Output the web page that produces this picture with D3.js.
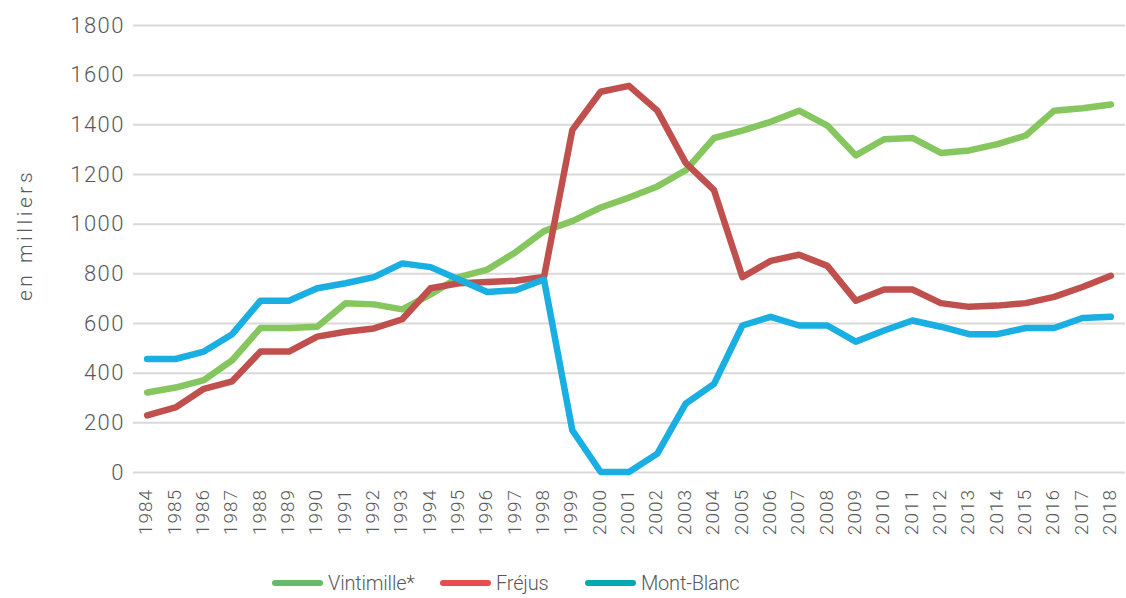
<!DOCTYPE html>
<html>
<head>
<meta charset="utf-8">
<script src="https://cdn.jsdelivr.net/npm/d3@7"></script>
<style>
  body { margin: 0; background: #fff; }
  svg text { font-family: "Roboto", "DejaVu Sans", sans-serif; font-weight: 300; fill: #595959; }
</style>
</head>
<body>
<svg id="chart" width="1126" height="598"></svg>
<script>
const years = d3.range(1984, 2019).map(String);
const yTicks = [0, 200, 400, 600, 800, 1000, 1200, 1400, 1600, 1800];
const seriesNames = ['Vintimille*', 'Fréjus', 'Mont-Blanc'];

const vintimille = [320, 340, 370, 450, 580, 580, 585, 680, 675, 655, 715, 785, 815, 885, 970,
  1010, 1065, 1105, 1150, 1215, 1345, 1375, 1410, 1455, 1395, 1275, 1340, 1345, 1285, 1295,
  1320, 1355, 1455, 1465, 1480];
const frejus = [228, 260, 335, 365, 485, 485, 545, 565, 578, 615, 740, 760, 765, 770, 785,
  1377, 1531, 1555, 1455, 1245, 1135, 785, 850, 875, 830, 690, 735, 735, 680, 665,
  670, 680, 705, 745, 790];
const montBlanc = [455, 455, 485, 555, 690, 690, 740, 760, 785, 840, 825, 775, 725, 732, 775,
  168, 0, 0, 74, 275, 355, 590, 625, 590, 590, 525, 570, 610, 585, 555,
  555, 580, 580, 620, 625];

const lineColors = ['#86c65e', '#c0504d', '#1aafe2'];
const legendColors = ['#66bb6a', '#e84c4c', '#00a9b0'];

const svg = d3.select('svg#chart');
const margin = {left: 133, right: 1, top: 25, bottom: 126};
const width = 1126 - margin.left - margin.right;
const height = 598 - margin.top - margin.bottom;

const x = d3.scalePoint().domain(years).range([0, width]).padding(0.5);
const y = d3.scaleLinear().domain([0, 1800]).range([height, 0]);

const g = svg.append('g').attr('transform', `translate(${margin.left},${margin.top})`);

// gridlines + y labels
const yAxis = g.append('g')
  .call(d3.axisLeft(y).tickValues(yTicks).tickFormat(d3.format('d')).tickSize(-width).tickPadding(8));
yAxis.select('.domain').remove();
yAxis.selectAll('line').attr('stroke', '#d9d9d9').attr('stroke-width', 2);
yAxis.selectAll('text')
  .style('font-size', '22px')
  .style('letter-spacing', '1.5px')
  .attr('fill', '#595959');

// x labels
const xAxis = g.append('g')
  .attr('transform', `translate(0,${height})`)
  .call(d3.axisBottom(x).tickSize(0).tickPadding(0));
xAxis.select('.domain').remove();
xAxis.selectAll('text')
  .style('font-size', '19px')
  .style('letter-spacing', '1px')
  .attr('fill', '#595959')
  .attr('text-anchor', 'end')
  .attr('dy', '0.35em')
  .attr('transform', 'translate(-2,17) rotate(-90)');

// axis title
svg.append('text')
  .attr('transform', `translate(32,235) rotate(-90)`)
  .attr('text-anchor', 'middle')
  .style('font-size', '21px')
  .style('letter-spacing', '3.5px')
  .text('en milliers');

const lineGen = d3.line()
  .x((d, i) => x(years[i]))
  .y(d => y(d));

const allSeries = [vintimille, frejus, montBlanc];
g.selectAll('path.series').data(allSeries)
  .enter().append('path')
    .attr('class', 'series')
    .attr('fill', 'none')
    .attr('stroke', (d, i) => lineColors[i])
    .attr('stroke-width', 6.5)
    .attr('stroke-linejoin', 'round')
    .attr('stroke-linecap', 'round')
    .attr('d', lineGen);

// legend
const legendX = [275, 443, 588];
const legend = svg.append('g').attr('transform', 'translate(0,583)');
const item = legend.selectAll('g').data(seriesNames)
  .enter().append('g')
    .attr('transform', (d, i) => `translate(${legendX[i]},0)`);
item.append('line')
  .attr('x1', 0).attr('x2', 45)
  .attr('stroke', (d, i) => legendColors[i])
  .attr('stroke-width', 6)
  .attr('stroke-linecap', 'round');
item.append('text')
  .attr('x', 53)
  .attr('dy', '0.35em')
  .style('font-size', '20px')
  .style('letter-spacing', '-0.2px')
  .text(d => d);
</script>
</body>
</html>
